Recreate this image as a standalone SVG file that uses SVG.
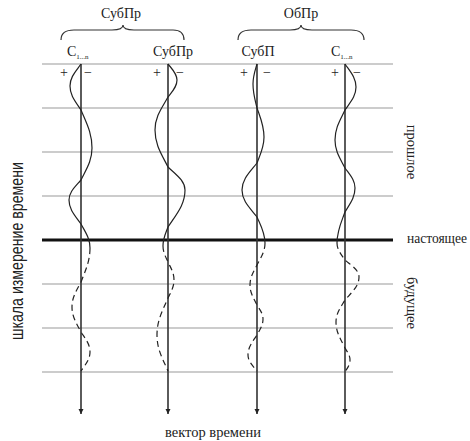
<svg xmlns="http://www.w3.org/2000/svg" width="470" height="441" viewBox="0 0 470 441">
<style>
.grid{stroke:#9a9a9a;stroke-width:1.2;fill:none}
.now{stroke:#111;stroke-width:3;fill:none}
.axis{stroke:#333;stroke-width:1.6;fill:none}
.wave{stroke:#222;stroke-width:1.2;fill:none}
.dash{stroke:#222;stroke-width:1.2;fill:none;stroke-dasharray:6 4}
.brace{stroke:#333;stroke-width:1.2;fill:none}
text{font-family:"Liberation Serif","DejaVu Serif",serif;fill:#222}
.lbl{font-size:14px}
.sub{font-size:7px}
.pm{font-size:14px}
.side{font-size:14.5px}
.scale{font-family:"Liberation Sans Narrow","Liberation Sans","DejaVu Sans",sans-serif;font-size:19px}
</style>
<defs>
<marker id="arr" viewBox="0 0 10 10" refX="10" refY="5" markerWidth="5" markerHeight="10" orient="auto" markerUnits="userSpaceOnUse">
<path d="M0,0 L10,5 L0,10 Z" fill="#222"/>
</marker>
</defs>
<g id="grid">
<line class="grid" x1="42" y1="64" x2="393" y2="64"/>
<line class="grid" x1="42" y1="108" x2="393" y2="108"/>
<line class="grid" x1="42" y1="152" x2="393" y2="152"/>
<line class="grid" x1="42" y1="196" x2="393" y2="196"/>
<line class="now" x1="42" y1="240" x2="393" y2="240"/>
<line class="grid" x1="42" y1="284" x2="393" y2="284"/>
<line class="grid" x1="42" y1="328" x2="393" y2="328"/>
<line class="grid" x1="42" y1="372" x2="393" y2="372"/>
</g>
<g id="connectors">
<line class="axis" x1="81" y1="64" x2="81" y2="414" marker-end="url(#arr)"/>
<line class="axis" x1="168" y1="64" x2="168" y2="414" marker-end="url(#arr)"/>
<line class="axis" x1="257" y1="64" x2="257" y2="414" marker-end="url(#arr)"/>
<line class="axis" x1="345" y1="64" x2="345" y2="414" marker-end="url(#arr)"/>
</g>
<g id="wave1">
<path class="wave" d="M81,64 C75.5,71.7 70,77.2 70,86 C70,95.6 75.5,101.6 81,110 C86.5,123.3 92,132.8 92,148 C92,160.8 86.5,168.8 81,180 C75,187 69,192 69,200 C69,209.6 75,215.6 81,224 C85.5,232.4 90,238.4 90,248"/>
<path class="dash" d="M90,248 C90,261.6 85.5,270.1 81,282 C76.5,290.75 72,297 72,307 C72,317 76.5,323.25 81,332 C85.5,339 90,344 90,352 C90,359.6 85.5,364.35 81,371"/>
</g>
<g id="wave2">
<path class="wave" d="M168,64 C172.5,69.6 177,73.6 177,80 C177,86.8 172.5,91.05 168,97 C161.5,108.55 155,116.8 155,130 C155,144.8 161.5,154.05 168,167 C176.5,175.05 185,180.8 185,190 C185,204.8 176.5,214.05 168,227 C165.5,233.65 163,238.4 163,246"/>
<path class="dash" d="M163,246 C163,252.4 165.5,256.4 168,262 C171,268.3 174,272.8 174,280 C174,287.2 171,291.7 168,298 C162.5,310.95 157,320.2 157,335 C157,349.4 162.5,358.4 168,371"/>
</g>
<g id="wave3">
<path class="wave" d="M257,64 C255,71 253,76 253,84 C253,93.6 255,99.6 257,108 C260.5,118.15 264,125.4 264,137 C264,147.4 260.5,153.9 257,163 C249.5,172.45 242,179.2 242,190 C242,200.8 249.5,207.55 257,217 C261,226.1 265,232.6 265,243"/>
<path class="dash" d="M265,243 C265,251.8 261,257.3 257,265 C253.5,272 250,277 250,285 C250,293 253.5,298 257,305 C260,309.9 263,313.4 263,319 C263,325.4 260,329.4 257,335 C252.5,342 248,347 248,355 C248,361.4 252.5,365.4 257,371"/>
</g>
<g id="wave4">
<path class="wave" d="M345,64 C350.5,72.05 356,77.8 356,87 C356,96.2 350.5,101.95 345,110 C340,120.5 335,128 335,140 C335,151.2 340,158.2 345,168 C350,175 355,180 355,188 C355,197.6 350,203.6 345,212 C341,222.85 337,230.6 337,243"/>
<path class="dash" d="M337,243 C337,249.8 341,254.05 345,260 C352,265.95 359,270.2 359,277 C359,286.2 352,291.95 345,300 C340.5,307.7 336,313.2 336,322 C336,332.4 340.5,338.9 345,348 C347.5,352.2 350,355.2 350,360 C350,364.8 347.5,367.8 345,372"/>
</g>
<g id="brace-left">
<path class="brace" d="M61,40 Q61,30 74,30 L112,30 Q123,30 123,25 Q123,30 134,30 L173,30 Q184,30 184,40"/>
<text class="lbl" x="121" y="18" text-anchor="middle">СубПр</text>
</g>
<g id="brace-right">
<path class="brace" d="M238,40 Q238,30 251,30 L290,30 Q301,30 301,25 Q301,30 312,30 L351,30 Q364,30 364,40"/>
<text class="lbl" x="301" y="18" text-anchor="middle">ОбПр</text>
</g>
<g id="col1">
<text class="lbl" x="67" y="56">С<tspan class="sub" dy="3">1...n</tspan></text>
<text class="pm" x="64" y="77" text-anchor="middle">+</text>
<text class="pm" x="88" y="77" text-anchor="middle">−</text>
</g>
<g id="col2">
<text class="lbl" x="173" y="56" text-anchor="middle">СубПр</text>
<text class="pm" x="157" y="77" text-anchor="middle">+</text>
<text class="pm" x="180" y="77" text-anchor="middle">−</text>
</g>
<g id="col3">
<text class="lbl" x="258" y="56" text-anchor="middle">СубП</text>
<text class="pm" x="244" y="77" text-anchor="middle">+</text>
<text class="pm" x="267" y="77" text-anchor="middle">−</text>
</g>
<g id="col4">
<text class="lbl" x="331" y="56">С<tspan class="sub" dy="3">1...n</tspan></text>
<text class="pm" x="335" y="77" text-anchor="middle">+</text>
<text class="pm" x="357" y="77" text-anchor="middle">−</text>
</g>
<g id="labels">
<text class="side" transform="translate(407,152) rotate(90)" text-anchor="middle">прошлое</text>
<text class="side" x="407" y="243" font-size="14" textLength="60" lengthAdjust="spacingAndGlyphs">настоящее</text>
<text class="side" transform="translate(407,303) rotate(90)" text-anchor="middle">будущее</text>
<text class="scale" transform="translate(23,251) rotate(-90)" text-anchor="middle" textLength="178" lengthAdjust="spacingAndGlyphs">шкала измерение времени</text>
<text class="side" x="213" y="437" text-anchor="middle" font-size="15.5">вектор времени</text>
</g>
</svg>
